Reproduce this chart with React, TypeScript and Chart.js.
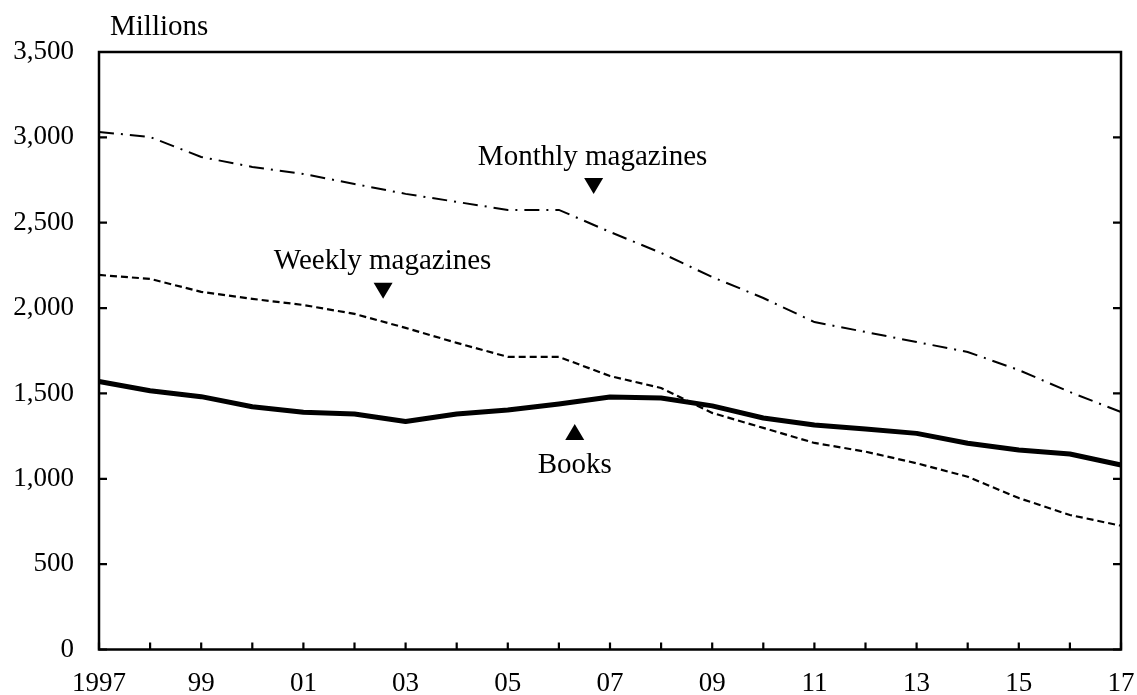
import React, { useEffect, useRef } from 'react';
import { Chart, registerables } from 'chart.js';

Chart.register(...registerables);

const years = ['1997','1998','1999','2000','2001','2002','2003','2004','2005','2006','2007','2008','2009','2010','2011','2012','2013','2014','2015','2016','2017'];
const books = [1570, 1516, 1481, 1422, 1390, 1380, 1335, 1380, 1403, 1438, 1479, 1473, 1427, 1356, 1315, 1292, 1266, 1208, 1169, 1145, 1081];
const weeklyMagazines = [2194, 2171, 2095, 2054, 2018, 1966, 1884, 1796, 1714, 1714, 1602, 1532, 1386, 1298, 1210, 1159, 1091, 1012, 887, 788, 725];
const monthlyMagazines = [3032, 3002, 2885, 2827, 2786, 2727, 2669, 2622, 2575, 2575, 2446, 2323, 2182, 2059, 1918, 1860, 1801, 1743, 1637, 1508, 1391];
const yTicks = [0, 500, 1000, 1500, 2000, 2500, 3000, 3500];
const unitLabel = 'Millions';

// annotation labels: x in year-index units, values in data units
const annotations = [
  { text: 'Monthly magazines', textX: 9.66, textBaseline: 2838, markerX: 9.68, markerTip: 2668, dir: 'down' },
  { text: 'Weekly magazines', textX: 5.55, textBaseline: 2229, markerX: 5.56, markerTip: 2054, dir: 'down' },
  { text: 'Books', textX: 9.31, textBaseline: 1034, markerX: 9.31, markerTip: 1321, dir: 'up' },
];

const SERIF = '"Liberation Serif", "Times New Roman", serif';

const framePlugin = {
  id: 'frame',
  afterDraw(chart: any) {
    const { ctx, chartArea: a, scales } = chart;
    const xs = scales.x;
    const ys = scales.y;
    ctx.save();
    ctx.strokeStyle = '#000';
    ctx.lineWidth = 2.5;
    ctx.strokeRect(a.left, a.top, a.right - a.left, a.bottom - a.top);
    ctx.lineWidth = 2.2;
    const tl = 8;
    ctx.beginPath();
    yTicks.forEach((v) => {
      const y = ys.getPixelForValue(v);
      ctx.moveTo(a.left, y);
      ctx.lineTo(a.left + tl, y);
      ctx.moveTo(a.right, y);
      ctx.lineTo(a.right - tl, y);
    });
    years.forEach((_, i) => {
      const x = xs.getPixelForValue(i);
      ctx.moveTo(x, a.bottom);
      ctx.lineTo(x, a.bottom - 7);
    });
    ctx.stroke();

    // unit label
    ctx.fillStyle = '#000';
    ctx.font = `29px ${SERIF}`;
    ctx.textAlign = 'left';
    ctx.textBaseline = 'alphabetic';
    ctx.fillText(unitLabel, a.left + 11, 35);

    // annotations
    annotations.forEach((an) => {
      ctx.textAlign = 'center';
      ctx.fillText(an.text, xs.getPixelForValue(an.textX), ys.getPixelForValue(an.textBaseline));
      const mx = xs.getPixelForValue(an.markerX);
      const tip = ys.getPixelForValue(an.markerTip);
      const w = 19;
      const h = 16;
      ctx.beginPath();
      if (an.dir === 'down') {
        ctx.moveTo(mx - w / 2, tip - h);
        ctx.lineTo(mx + w / 2, tip - h);
        ctx.lineTo(mx, tip);
      } else {
        ctx.moveTo(mx - w / 2, tip + h);
        ctx.lineTo(mx + w / 2, tip + h);
        ctx.lineTo(mx, tip);
      }
      ctx.closePath();
      ctx.fill();
    });
    ctx.restore();
  },
};

export default function App() {
  const ref = useRef<HTMLCanvasElement | null>(null);
  useEffect(() => {
    if (!ref.current) return;
    const chart = new Chart(ref.current, {
      type: 'line',
      data: {
        labels: years,
        datasets: [
          {
            label: 'Monthly magazines',
            data: monthlyMagazines,
            borderColor: '#000',
            borderWidth: 2,
            borderDash: [15, 7, 2, 7],
            pointRadius: 0,
            tension: 0,
            fill: false,
          },
          {
            label: 'Weekly magazines',
            data: weeklyMagazines,
            borderColor: '#000',
            borderWidth: 2.2,
            borderDash: [7, 4],
            pointRadius: 0,
            tension: 0,
            fill: false,
          },
          {
            label: 'Books',
            data: books,
            borderColor: '#000',
            borderWidth: 5,
            borderJoinStyle: 'round',
            pointRadius: 0,
            tension: 0,
            fill: false,
          },
        ],
      },
      options: {
        responsive: false,
        animation: false,
        devicePixelRatio: 1,
        layout: { padding: { top: 52, right: 16, left: 0, bottom: 0 } },
        plugins: {
          legend: { display: false },
          tooltip: { enabled: false },
        },
        scales: {
          x: {
            type: 'category',
            offset: false,
            grid: { display: false, drawTicks: false },
            border: { display: false },
            ticks: {
              autoSkip: false,
              maxRotation: 0,
              minRotation: 0,
              padding: 18,
              color: '#000',
              font: { family: SERIF, size: 27 },
              callback: (_v: any, i: number) => (i % 2 === 0 ? (i === 0 ? years[i] : years[i].slice(2)) : ''),
            },
            afterFit: (s: any) => { s.height = 45.5; s.paddingLeft = 0; s.paddingRight = 0; },
          },
          y: {
            min: 0,
            max: 3500,
            grid: { display: false, drawTicks: false },
            border: { display: false },
            ticks: {
              stepSize: 500,
              padding: 25,
              color: '#000',
              font: { family: SERIF, size: 27 },
              callback: (v: any) => Number(v).toLocaleString('en-US'),
            },
            afterFit: (s: any) => { s.width = 99; s.paddingTop = 0; s.paddingBottom = 0; },
          },
        },
      },
      plugins: [framePlugin],
    } as any);
    return () => chart.destroy();
  }, []);
  return (
    <div style={{ position: 'fixed', left: 0, top: 0, width: 1137, height: 695, background: '#fff' }}>
      <canvas ref={ref} width={1137} height={695} />
    </div>
  );
}
